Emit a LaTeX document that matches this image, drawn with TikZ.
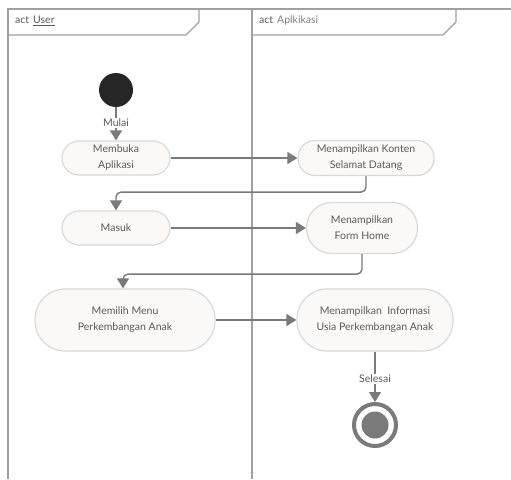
\documentclass[tikz,border=0pt]{standalone}
\usepackage{fontspec}
\setmainfont{Lato}
\usepackage{xcolor}
\usetikzlibrary{arrows.meta, positioning, calc}
\definecolor{lanegray}{HTML}{A0A0A0}
\definecolor{boxline}{HTML}{D9D9D9}
\definecolor{boxfill}{HTML}{FAF9F7}
\definecolor{txtgray}{HTML}{5A5A5A}
\definecolor{flowgray}{HTML}{7A7A7A}
\begin{document}
\begin{tikzpicture}[
    x=1pt, y=-1pt,
    font=\fontsize{10.5}{16}\selectfont,
    lane/.style={draw=lanegray, line width=1.4pt},
    actbox/.style={rectangle, rounded corners=15pt, draw=boxline, line width=1.2pt, fill=boxfill, text=txtgray, align=center, inner sep=0pt},
    lbl/.style={text=txtgray, inner sep=1pt},
    arrow/.style={-{Triangle[width=12pt, length=10pt]}, draw=flowgray, line width=1.4pt},
    flow/.style={draw=flowgray, line width=1.4pt},
]
\useasboundingbox (0,0) rectangle (511,479);

% swimlanes
\draw[lane] (8,479) -- (8,9) -- (511,9);
\draw[lane] (252,479) -- (252,9);
\draw[lane] (8,35) -- (186,35) -- (199,22) -- (199,9);
\draw[lane] (252,35) -- (443,35) -- (456,22) -- (456,9);
\node[lbl, anchor=west] (userhead) at (14,21) {act\hspace{4pt}\underline{User}};
\node[lbl, anchor=west] (apphead) at (258,21) {act\hspace{4pt}\textcolor{gray}{Aplkikasi}};

% nodes
\node[circle, fill=black!85, minimum size=34pt, inner sep=0pt] (start) at (116,90) {};
\node[lbl] (mulai) at (116,123) {Mulai};
\node[actbox, minimum width=108pt, minimum height=34pt, rounded corners=17pt] (membuka) at (116,158) {Membuka\\Aplikasi};
\node[actbox, minimum width=136pt, minimum height=35pt, rounded corners=17pt] (konten) at (366,158) {Menampilkan Konten\\Selamat Datang};
\node[actbox, minimum width=108pt, minimum height=34pt, rounded corners=17pt] (masuk) at (116,228) {Masuk};
\node[actbox, minimum width=111pt, minimum height=51pt, rounded corners=25pt] (home) at (362,228) {Menampilkan\\Form Home};
\node[actbox, minimum width=180pt, minimum height=62pt, rounded corners=30pt] (memilih) at (125,320) {Memilih Menu\\Perkembangan Anak};
\node[actbox, minimum width=156pt, minimum height=62pt, rounded corners=30pt] (info) at (375,320) {Menampilkan\ \ Informasi\\Usia Perkembangan Anak};
\node[lbl] (selesai) at (375,379) {Selesai};
\node[circle, draw=flowgray, line width=4pt, fill=white, minimum size=42pt, inner sep=0pt] (stop) at (375,425) {};
\node[circle, fill=flowgray, minimum size=27pt, inner sep=0pt] (stopdot) at (stop.center) {};

% flows
\draw[flow] (start) -- (mulai);
\draw[arrow] (mulai) -- (membuka);
\draw[arrow] (membuka) -- (konten);
\draw[arrow, rounded corners=5pt] (konten.south) -- ++(0,16) -| (masuk.north);
\draw[arrow] (masuk) -- (home);
\draw[arrow, rounded corners=5pt] (home.south) -- ++(0,20) -| ($(memilih.north)+(-2,0)$);
\draw[arrow] (memilih) -- (info);
\draw[flow] (info) -- (selesai);
\draw[arrow] (selesai) -- (stop);
\end{tikzpicture}
\end{document}
